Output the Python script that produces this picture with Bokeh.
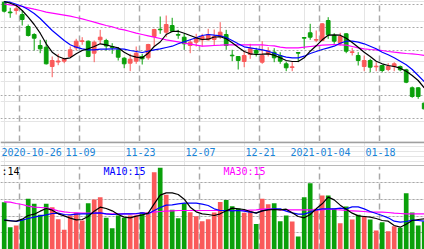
from bokeh.plotting import figure
from bokeh.layouts import column
from bokeh.models import Range1d, Span, Grid, FixedTicker, ColumnDataSource
from bokeh.embed import file_html
from bokeh.resources import INLINE
from bokeh.core.properties import value

# ---------------- data ----------------
tick_index = [3, 13, 23, 33, 43, 53, 63]
tick_labels = ["2020-10-26", "11-09", "11-23", "12-07", "12-21", "2021-01-04", "01-18"]

opens = [11.393, 11.295, 11.31, 11.27, 11.15, 11.07, 10.96, 10.943, 10.75, 10.795,
         10.803, 10.85, 10.937, 11.0, 11.003, 10.883, 11.017, 11.01, 10.95, 10.917,
         10.833, 10.783, 10.803, 10.85, 10.837, 11.05, 11.123, 11.093, 11.16, 11.07,
         11.043, 10.96, 10.993, 11.017, 11.017, 11.02, 11.05, 11.07, 10.863, 10.85,
         10.80, 10.87, 10.91, 10.793, 10.877, 10.893, 10.86, 10.777, 10.74, 10.89,
         11.04, 11.087, 11.013, 11.01, 11.21, 11.06, 10.983, 11.077, 10.89, 10.86,
         10.75, 10.81, 10.747, 10.76, 10.72, 10.75, 10.75, 10.717, 10.537, 10.537,
         10.383]
highs = [11.405, 11.337, 11.36, 11.31, 11.17, 11.083, 11.017, 11.017, 10.85, 10.877,
         10.837, 10.95, 11.027, 11.043, 11.01, 11.01, 11.117, 11.027, 10.983, 10.943,
         10.843, 10.877, 10.95, 10.877, 10.977, 11.127, 11.25, 11.26, 11.237, 11.117,
         11.077, 11.017, 11.077, 11.077, 11.127, 11.12, 11.193, 11.117, 10.917, 10.85,
         10.91, 10.977, 10.937, 11.003, 10.943, 10.933, 10.893, 10.80, 10.793, 10.893,
         11.043, 11.177, 11.11, 11.183, 11.243, 11.083, 11.087, 11.083, 10.937, 10.893,
         10.86, 10.827, 10.793, 10.767, 10.783, 10.793, 10.76, 10.727, 10.55, 10.543,
         10.393]
lows = [11.29, 11.237, 11.27, 11.16, 11.05, 10.91, 10.883, 10.77, 10.643, 10.763,
        10.783, 10.843, 10.91, 10.967, 10.843, 10.793, 10.977, 10.91, 10.877, 10.81,
        10.733, 10.703, 10.777, 10.77, 10.817, 10.95, 11.077, 11.043, 11.093, 11.027,
        10.917, 10.883, 10.95, 10.95, 11.01, 10.96, 11.027, 10.917, 10.803, 10.72,
        10.743, 10.827, 10.85, 10.777, 10.85, 10.793, 10.777, 10.703, 10.703, 10.793,
        10.927, 11.017, 10.993, 11.003, 11.027, 10.977, 10.96, 10.883, 10.86, 10.76,
        10.703, 10.693, 10.703, 10.693, 10.703, 10.703, 10.703, 10.583, 10.437, 10.427,
        10.317]
closes = [11.303, 11.287, 11.327, 11.22, 11.06, 11.033, 10.927, 10.777, 10.81, 10.805,
          10.827, 10.917, 11.003, 11.007, 10.85, 10.993, 11.043, 10.955, 10.94, 10.843,
          10.777, 10.823, 10.883, 10.827, 10.97, 11.12, 11.117, 11.17, 11.103, 11.063,
          10.977, 10.993, 11.033, 11.05, 11.07, 11.05, 11.093, 10.96, 10.857, 10.81,
          10.86, 10.927, 10.883, 10.86, 10.903, 10.837, 10.803, 10.737, 10.747, 10.883,
          11.033, 11.043, 11.02, 11.177, 11.067, 11.003, 11.05, 10.903, 10.897, 10.81,
          10.81, 10.743, 10.753, 10.71, 10.75, 10.777, 10.717, 10.593, 10.45, 10.45,
          10.327]

ma5 = [11.40, 11.383, 11.36, 11.31, 11.243, 11.17, 11.083, 10.977, 10.893, 10.85,
       10.827, 10.837, 10.877, 10.91, 10.927, 10.95, 10.977, 10.967, 10.95, 10.937,
       10.893, 10.86, 10.843, 10.837, 10.883, 10.95, 10.995, 11.07, 11.10, 11.103,
       11.083, 11.06, 11.037, 11.02, 11.023, 11.045, 11.047, 11.027, 10.987, 10.943,
       10.90, 10.877, 10.87, 10.873, 10.877, 10.863, 10.837, 10.81, 10.80, 10.80,
       10.837, 10.903, 10.957, 11.017, 11.063, 11.067, 11.063, 11.033, 10.99, 10.943,
       10.893, 10.85, 10.803, 10.777, 10.76, 10.75, 10.733, 10.703, 10.66, 10.61,
       10.537]
ma10 = [11.397, 11.393, 11.373, 11.353, 11.32, 11.28, 11.23, 11.17, 11.11, 11.06,
        11.01, 10.967, 10.943, 10.927, 10.917, 10.917, 10.923, 10.923, 10.927, 10.927,
        10.923, 10.91, 10.90, 10.89, 10.903, 10.917, 10.927, 10.94, 10.953, 10.977,
        10.997, 11.017, 11.037, 11.06, 11.07, 11.063, 11.057, 11.04, 11.01, 10.977,
        10.947, 10.937, 10.927, 10.917, 10.903, 10.883, 10.86, 10.843, 10.837, 10.837,
        10.853, 10.88, 10.90, 10.92, 10.937, 10.953, 10.983, 11.003, 11.003, 10.993,
        10.977, 10.953, 10.927, 10.893, 10.867, 10.837, 10.803, 10.767, 10.72, 10.66,
        10.60]
ma30 = [11.375, 11.367, 11.36, 11.35, 11.337, 11.323, 11.31, 11.293, 11.283, 11.273,
        11.263, 11.253, 11.24, 11.227, 11.21, 11.193, 11.177, 11.16, 11.147, 11.127,
        11.117, 11.10, 11.083, 11.07, 11.057, 11.043, 11.03, 11.017, 11.007, 10.997,
        10.983, 10.973, 10.963, 10.953, 10.957, 10.96, 10.963, 10.967, 10.967, 10.967,
        10.967, 10.967, 10.967, 10.967, 10.96, 10.957, 10.943, 10.937, 10.937, 10.937,
        10.943, 10.95, 10.957, 10.963, 10.967, 10.97, 10.967, 10.963, 10.95, 10.937,
        10.927, 10.92, 10.917, 10.91, 10.90, 10.893, 10.887, 10.88, 10.877, 10.87,
        10.86]

volumes = [2.84, 1.34, 1.44, 1.78, 3.04, 2.74, 2.08, 2.74, 2.54, 1.82,
           1.18, 2.04, 2.20, 1.74, 2.78, 3.00, 3.14, 1.90, 1.28, 2.04,
           1.90, 2.04, 2.04, 2.24, 2.22, 4.64, 4.90, 3.28, 2.38, 1.88,
           2.78, 2.24, 2.00, 1.70, 1.82, 2.22, 2.85, 2.97, 2.60, 2.46,
           2.20, 2.28, 1.53, 3.04, 2.72, 2.78, 1.69, 2.04, 1.68, 0.78,
           3.14, 3.98, 2.44, 3.24, 3.24, 2.46, 1.58, 2.58, 1.80, 2.08,
           1.98, 1.80, 1.14, 1.64, 1.10, 1.40, 1.30, 3.38, 2.22, 1.44,
           1.68]
vol_ma5 = [1.76, 1.72, 1.70, 1.82, 2.04, 2.12, 2.30, 2.46, 2.36, 2.14,
           2.02, 1.88, 1.78, 1.80, 1.98, 2.30, 2.54, 2.46, 2.32, 2.10,
           1.94, 1.90, 2.00, 2.07, 2.18, 2.74, 3.26, 3.40, 3.40, 3.30,
           3.02, 2.54, 2.26, 2.14, 2.10, 2.04, 2.14, 2.32, 2.48, 2.44,
           2.40, 2.28, 2.18, 2.32, 2.38, 2.40, 2.38, 2.42, 2.20, 1.98,
           1.90, 2.10, 2.44, 2.74, 3.14, 2.98, 2.66, 2.42, 2.18, 2.02,
           1.98, 1.94, 1.86, 1.74, 1.70, 1.44, 1.34, 1.52, 1.74, 1.80,
           1.84]
vol_ma10 = [1.76, 1.74, 1.68, 1.76, 1.86, 1.94, 2.02, 2.08, 2.16, 2.18,
            2.10, 2.08, 2.12, 2.14, 2.14, 2.18, 2.20, 2.14, 2.10, 2.12,
            2.14, 2.14, 2.16, 2.20, 2.14, 2.34, 2.52, 2.66, 2.68, 2.74,
            2.78, 2.78, 2.78, 2.72, 2.64, 2.44, 2.34, 2.34, 2.32, 2.34,
            2.30, 2.24, 2.20, 2.32, 2.40, 2.44, 2.44, 2.30, 2.20, 2.12,
            2.12, 2.24, 2.38, 2.44, 2.44, 2.44, 2.48, 2.44, 2.56, 2.56,
            2.44, 2.28, 2.16, 2.04, 1.90, 1.70, 1.64, 1.68, 1.76, 1.74,
            1.70]
vol_ma30 = [2.86, 2.84, 2.76, 2.70, 2.60, 2.54, 2.52, 2.50, 2.42, 2.32,
            2.26, 2.22, 2.20, 2.18, 2.18, 2.18, 2.18, 2.14, 2.14, 2.14,
            2.14, 2.14, 2.14, 2.18, 2.20, 2.24, 2.28, 2.30, 2.32, 2.34,
            2.34, 2.34, 2.34, 2.34, 2.34, 2.34, 2.34, 2.34, 2.34, 2.34,
            2.34, 2.36, 2.38, 2.42, 2.44, 2.42, 2.38, 2.38, 2.38, 2.38,
            2.38, 2.38, 2.38, 2.38, 2.44, 2.40, 2.38, 2.34, 2.32, 2.30,
            2.28, 2.24, 2.24, 2.24, 2.22, 2.18, 2.16, 2.14, 2.14, 2.14,
            2.14]

vol_labels = [":14", "MA10:15", "MA30:15"]
price_grid = [10.23, 10.46, 10.69, 10.91, 11.14, 11.37]
vol_grid = [1, 2, 3, 4]

# ---------------- styles ----------------
UP = "#fa5a5a"
DOWN = "#0aa00a"
GRID_C = "#a8a8a8"
BORDER_C = "#a0a0a0"

idx = list(range(len(opens)))
colors = [UP if c >= o else DOWN for o, c in zip(opens, closes)]
src = ColumnDataSource(dict(
    x=idx, o=opens, h=highs, l=lows, c=closes,
    top=[max(o, c) for o, c in zip(opens, closes)],
    bot=[min(o, c) for o, c in zip(opens, closes)],
    col=colors, v=volumes,
    ma5=ma5, ma10=ma10, ma30=ma30,
    vma5=vol_ma5, vma10=vol_ma10, vma30=vol_ma30,
))

X_START, X_END = -0.617, 70.05
x_range = Range1d(X_START, X_END)
vgrid_pos = [t - 0.4 for t in tick_index]


def base_fig(h, yr):
    f = figure(width=424, height=h, x_range=x_range, y_range=yr,
               output_backend="svg", toolbar_location=None,
               x_axis_location=None, y_axis_location=None,
               min_border=0, min_border_left=0, min_border_right=0,
               min_border_top=0, min_border_bottom=0,
               outline_line_color=None, background_fill_color="white",
               border_fill_color="white")
    return f


# ---- price panel ----
main = base_fig(141, Range1d(10.0, 11.41))
main.add_layout(Grid(dimension=1, ticker=FixedTicker(ticks=price_grid),
                     grid_line_color=GRID_C, grid_line_dash="2 2", grid_line_width=1))
main.add_layout(Grid(dimension=0, ticker=FixedTicker(ticks=vgrid_pos),
                     grid_line_color=GRID_C, grid_line_dash="6 4", grid_line_width=1.5))
main.segment(x0="x", y0="h", x1="x", y1="l", line_color="col", line_width=1, source=src)
main.vbar(x="x", width=0.62, top="top", bottom="bot", fill_color="col",
          line_color="col", line_width=1, source=src)
main.line("x", "ma30", color="#ff00ff", line_width=1.2, source=src)
main.line("x", "ma10", color="#0000ff", line_width=1.2, source=src)
main.line("x", "ma5", color="#000000", line_width=1.2, source=src)

# ---- date band ----
band = base_fig(25, Range1d(0, 25))
# the first label would run past the left edge: keep it whole, aligned left
label_x = [t - 0.45 for t in tick_index]
label_align = ["center"] * len(tick_index)
label_x[0] = X_START
label_align[0] = "left"
band.text(x=label_x, y=[15.0] * len(tick_index), text=tick_labels,
          text_font=value("DejaVu Sans Mono"), text_font_size="10px",
          text_color="#1a84d8", text_align=label_align, text_baseline="middle",
          x_offset=1)
band.add_layout(Span(location=24.3, dimension="width", line_color=BORDER_C, line_width=2))
band.add_layout(Span(location=0.6, dimension="width", line_color=BORDER_C, line_width=1.5))

# ---- volume panel ----
vol = base_fig(83, Range1d(0, 4.98))
vol.add_layout(Grid(dimension=1, ticker=FixedTicker(ticks=vol_grid),
                    grid_line_color=GRID_C, grid_line_dash="2 2", grid_line_width=1))
vol.add_layout(Grid(dimension=0, ticker=FixedTicker(ticks=vgrid_pos),
                    grid_line_color=GRID_C, grid_line_dash="6 4", grid_line_width=1.5))
vol.vbar(x="x", width=0.78, top="v", bottom=0, fill_color="col", line_color=None, source=src)
vol.line("x", "vma30", color="#ff00ff", line_width=1.2, source=src)
vol.line("x", "vma10", color="#0000ff", line_width=1.2, source=src)
vol.line("x", "vma5", color="#000000", line_width=1.2, source=src)
vol.text(x=[X_START, 16.38, 36.38], y=[4.66] * 3, text=vol_labels,
         text_font=value("DejaVu Sans Mono"), text_font_size="10px",
         text_color=["#000000", "#0000ff", "#ff00ff"],
         text_align="left", text_baseline="middle", x_offset=1)

layout = column(main, band, vol, spacing=0)
open("out.html", "w").write(file_html(layout, INLINE))
